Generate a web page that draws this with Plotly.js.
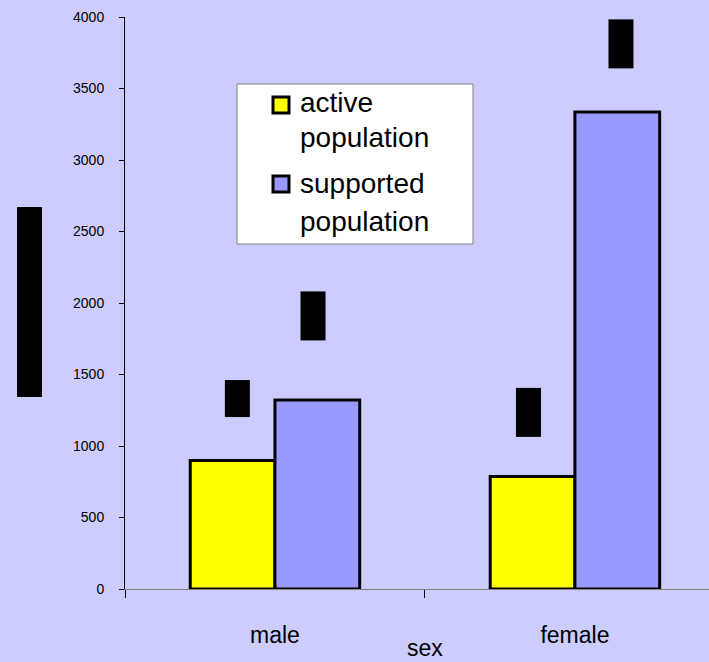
<!DOCTYPE html>
<html>
<head>
<meta charset="utf-8">
<script src="https://cdn.plot.ly/plotly-3.0.1.min.js"></script>
<style>
  html, body { margin: 0; padding: 0; background: #CCCCFF; }
  #chart { width: 709px; height: 662px; }
</style>
</head>
<body>
<div id="chart"></div>
<script>
// Population by sex: active vs supported
const categories = ['male', 'female'];
const seriesNames = ['active<br>population', 'supported<br>population'];
const seriesColors = ['#FFFF00', '#9999FF'];
const activeValues = [898, 787];
const supportedValues = [1322, 3336];
const yTickValues = [0, 500, 1000, 1500, 2000, 2500, 3000, 3500, 4000];
const yAxisTitle = 'population (thousands)';
const xAxisTitle = 'sex';

const FONT = 'Arial, "Liberation Sans", sans-serif';
const barLine = { color: '#000000', width: 3 };
const seriesValues = [activeValues, supportedValues];

const traces = seriesValues.map((vals, s) => ({
  type: 'bar', name: seriesNames[s], x: categories, y: vals,
  marker: { color: seriesColors[s], line: barLine }, hoverinfo: 'x+y'
}));

// plot area in pixels, for placing paper-referenced items
const PA = { left: 125, right: 709, top: 17, bottom: 589 };
const px2x = p => (p - PA.left) / (PA.right - PA.left);
const px2y = p => (PA.bottom - p) / (PA.bottom - PA.top);

// value labels: drawn as solid black blocks above each bar
const labelStyle = [
  { s: 0, dx: [-38, -46], gap: [43, 39], len: [36, 48] },
  { s: 1, dx: [38, 46], gap: [59, 43], len: [48, 48] }
];
const annotations = [];
const shapes = [];
labelStyle.forEach(ls => {
  categories.forEach((c, i) => {
    const v = seriesValues[ls.s][i];
    annotations.push({
      x: c, y: v, xref: 'x', yref: 'y',
      text: String(v), textangle: -90, showarrow: false,
      font: { family: FONT, size: 18, color: '#000000' },
      bgcolor: '#000000', borderpad: 0,
      width: ls.len[i], height: 24,
      xanchor: 'center', yanchor: 'bottom',
      xshift: ls.dx[i], yshift: ls.gap[i]
    });
  });
});
// y-axis title block
annotations.push({
  x: px2x(29), y: px2y(302.5), xref: 'paper', yref: 'paper',
  text: yAxisTitle, textangle: -90, showarrow: false,
  font: { family: FONT, size: 18, color: '#000000' },
  bgcolor: '#000000', borderpad: 0, width: 189, height: 24,
  xanchor: 'center', yanchor: 'middle'
});
// x-axis title
annotations.push({
  x: 0.5, y: 0, xref: 'x', yref: 'paper',
  text: xAxisTitle, showarrow: false,
  font: { family: FONT, size: 23, color: '#000000' },
  xanchor: 'center', yanchor: 'middle', yshift: -59
});

// legend box with swatches and two-line entries
shapes.push({
  type: 'rect', xref: 'paper', yref: 'paper', layer: 'above',
  x0: px2x(237), x1: px2x(473), y0: px2y(244), y1: px2y(84),
  fillcolor: '#FFFFFF', line: { color: '#808080', width: 1 }
});
const legendRows = [[102, 137], [183, 221]];
const swatchRows = [105, 184];
seriesNames.forEach((name, s) => {
  const cy = swatchRows[s];
  shapes.push({
    type: 'rect', xref: 'paper', yref: 'paper', layer: 'above',
    x0: px2x(273), x1: px2x(289), y0: px2y(cy + 8), y1: px2y(cy - 8),
    fillcolor: seriesColors[s], line: { color: '#000000', width: 3 }
  });
  name.split('<br>').forEach((line, k) => {
    annotations.push({
      x: px2x(299), y: px2y(legendRows[s][k]), xref: 'paper', yref: 'paper',
      text: line, showarrow: false,
      font: { family: FONT, size: 28, color: '#000000' },
      xanchor: 'left', yanchor: 'middle', borderpad: 0
    });
  });
});

const layout = {
  width: 709, height: 662,
  margin: { l: PA.left, r: 709 - PA.right, t: PA.top, b: 662 - PA.bottom },
  paper_bgcolor: '#CCCCFF',
  plot_bgcolor: 'rgba(0,0,0,0)',
  font: { family: FONT, color: '#000000' },
  barmode: 'group', bargap: 0.435, bargroupgap: 0,
  showlegend: false,
  xaxis: {
    type: 'category', range: [-0.5, 1.447],
    showline: true, linecolor: '#808080', linewidth: 1,
    ticks: 'outside', tickson: 'boundaries', ticklen: 8, tickcolor: '#000000',
    ticklabelstandoff: 25,
    tickfont: { family: FONT, size: 23, color: '#000000' },
    showgrid: false, zeroline: false, fixedrange: true
  },
  yaxis: {
    range: [0, 4000], tickvals: yTickValues,
    showline: true, linecolor: '#000000', linewidth: 1,
    ticks: 'outside', ticklen: 5, tickcolor: '#000000',
    ticklabelstandoff: 12,
    tickfont: { family: FONT, size: 14, color: '#000000' },
    showgrid: false, zeroline: false, fixedrange: true
  },
  shapes: shapes,
  annotations: annotations
};

Plotly.newPlot('chart', traces, layout, { displayModeBar: false, staticPlot: true });
</script>
</body>
</html>
